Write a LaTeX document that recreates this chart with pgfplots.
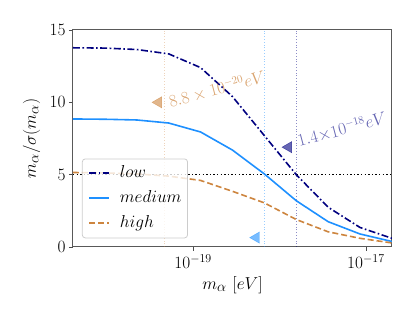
\documentclass[border=0pt]{standalone}
\usepackage{pgfplots}
\pgfplotsset{compat=1.18}
\definecolor{lowc}{HTML}{000080}
\definecolor{medc}{HTML}{1E90FF}
\definecolor{highc}{HTML}{CD853F}

\begin{document}
\begin{tikzpicture}
\begin{axis}[
 at={(0,0)}, anchor=south west, scale only axis,
 width=319pt, height=217pt,
 xmode=log, xmin=4.07e-21, xmax=2.0e-17, ymin=0, ymax=15,
 xtick={1e-19,1e-17}, ytick={0,5,10,15},
 minor xtick={},
 tick align=outside, xtick pos=bottom, ytick pos=left,
 major tick length=4pt,
 tick style={black!70, line width=0.8pt},
 axis line style={black!65, line width=1pt},
 tick label style={font=\fontsize{17}{20}\selectfont},
 xlabel={$m_\alpha\ [eV]$}, ylabel={$m_\alpha/\sigma(m_\alpha)$},
 label style={font=\fontsize{19}{23}\selectfont},
 xlabel style={at={(axis description cs:0.5,-0.175)}, anchor=center},
 ylabel style={at={(axis description cs:-0.13,0.5)}, anchor=center},
]
% vertical markers
\addplot[highc, opacity=0.35, dotted, line width=0.8pt] coordinates {(4.6e-20,0) (4.6e-20,15)};
\addplot[medc, opacity=0.45, dotted, line width=0.8pt] coordinates {(6.67e-19,0) (6.67e-19,15)};
\addplot[lowc, opacity=0.45, dotted, line width=0.8pt] coordinates {(1.56e-18,0) (1.56e-18,15)};
% threshold
\addplot[black, line width=1.4pt, dash pattern=on 1.4pt off 2.2pt] coordinates {(4.07e-21,5) (2.0e-17,5)};

% low
\addplot[lowc, line width=1.6pt, dash pattern=on 7pt off 2.5pt on 1.6pt off 2.5pt] coordinates {
 (4.07e-21,13.77) (9.53e-21,13.75) (2.23e-20,13.65) (5.21e-20,13.35) (1.22e-19,12.4)
 (2.85e-19,10.4) (6.67e-19,7.7) (1.56e-18,5.0) (3.65e-18,2.75) (8.53e-18,1.35) (2.0e-17,0.6)};
% medium
\addplot[medc, line width=1.6pt] coordinates {
 (4.07e-21,8.85) (9.53e-21,8.83) (2.23e-20,8.78) (5.21e-20,8.57) (1.22e-19,7.95)
 (2.85e-19,6.7) (6.67e-19,5.05) (1.56e-18,3.2) (3.65e-18,1.75) (8.53e-18,0.9) (2.0e-17,0.38)};
% high
\addplot[highc, line width=1.6pt, dash pattern=on 6pt off 3pt] coordinates {
 (4.07e-21,5.15) (9.53e-21,5.12) (2.23e-20,5.05) (5.21e-20,4.9) (1.22e-19,4.6)
 (2.85e-19,3.85) (6.67e-19,3.05) (1.56e-18,1.9) (3.65e-18,1.05) (8.53e-18,0.6) (2.0e-17,0.28)};

% annotation markers
\addplot[only marks, highc, opacity=0.6, mark=triangle*, mark size=6.5pt, mark options={rotate=90, draw=highc, fill=highc}] coordinates {(3.98e-20,10.0)};
\addplot[only marks, medc, opacity=0.6, mark=triangle*, mark size=6.5pt, mark options={rotate=90, draw=medc, fill=medc}] coordinates {(5.37e-19,0.65)};
\addplot[only marks, lowc, opacity=0.6, mark=triangle*, mark size=6.5pt, mark options={rotate=90, draw=lowc, fill=lowc}] coordinates {(1.27e-18,6.9)};

\node[anchor=west, rotate=15, text=highc, text opacity=0.75, font=\fontsize{16}{19}\selectfont, inner sep=1pt] at (axis cs:5.13e-20,10.0) {$8.8\times10^{-20}eV$};
\node[anchor=west, rotate=15, text=lowc, text opacity=0.6, font=\fontsize{16}{19}\selectfont, inner sep=1pt] at (axis cs:1.58e-18,7.3) {$1.4{\times}10^{-18}eV$};

% legend, drawn as a plain box
\node[anchor=south west, draw=black!20, line width=0.8pt, rounded corners=3pt,
  fill=white, fill opacity=0.8, text opacity=1, inner xsep=6pt, inner ysep=4pt,
  font=\fontsize{17.5}{21}\selectfont] at (axis description cs:0.028,0.04) {%
  \begin{tabular}{@{}l@{\hspace{10pt}}l@{}}
  \tikz[baseline=-0.6ex]\draw[lowc, line width=1.6pt, dash pattern=on 7pt off 2.5pt on 1.6pt off 2.5pt] (0pt,0pt)--(20pt,0pt); & $low$\\[4pt]
  \tikz[baseline=-0.6ex]\draw[medc, line width=1.6pt] (0pt,0pt)--(20pt,0pt); & $medium$\\[4pt]
  \tikz[baseline=-0.6ex]\draw[highc, line width=1.6pt, dash pattern=on 6pt off 3pt] (0pt,0pt)--(20pt,0pt); & $high$
  \end{tabular}};
\end{axis}
\path[use as bounding box] (-73pt,-73pt) rectangle (342pt,247pt);
\end{tikzpicture}
\end{document}
